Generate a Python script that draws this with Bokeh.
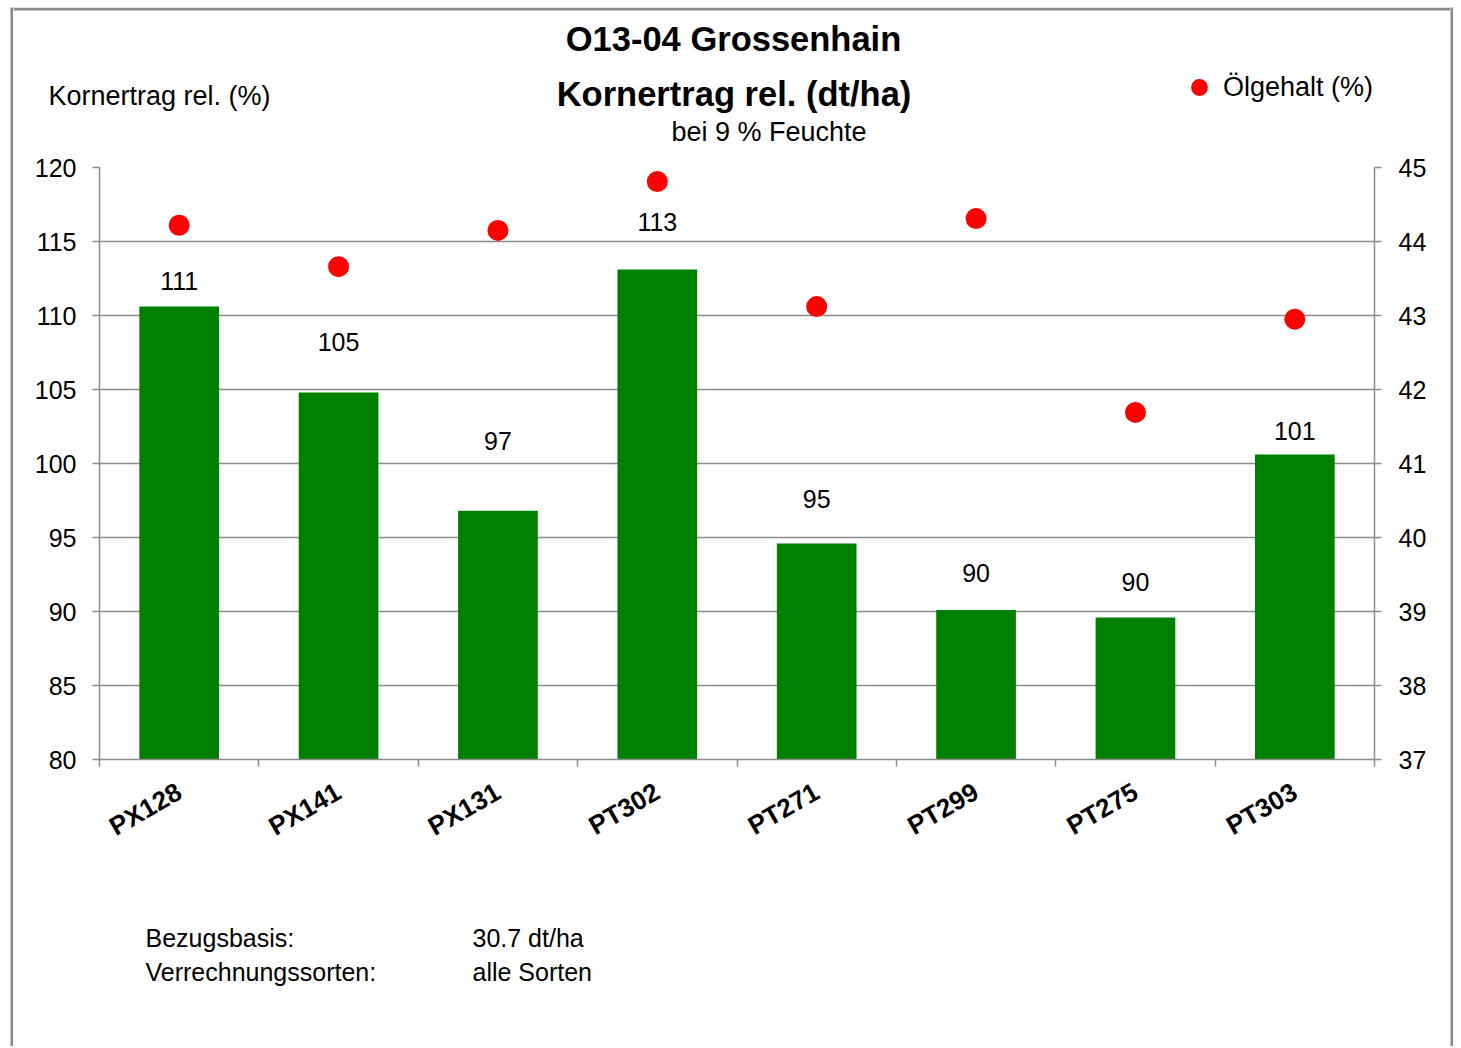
import math
from bokeh.plotting import figure
from bokeh.layouts import column, row
from bokeh.models import (Range1d, LinearAxis, FixedTicker, Spacer, Span,
                          Legend, LegendItem)
from bokeh.core.properties import value
from bokeh.embed import file_html
from bokeh.resources import INLINE

# ---------------- data ----------------
sorten = ["PX128", "PX141", "PX131", "PT302", "PT271", "PT299", "PT275", "PT303"]
kornertrag_rel = [110.6, 104.8, 96.8, 113.1, 94.6, 90.1, 89.6, 100.6]
oelgehalt = [44.22, 43.66, 44.15, 44.81, 43.12, 44.31, 41.69, 42.95]
label_hoehe = [112.3, 108.2, 101.5, 116.3, 97.6, 92.6, 92.0, 102.2]
y_ticks = [80, 85, 90, 95, 100, 105, 110, 115, 120]
y2_ticks = [37, 38, 39, 40, 41, 42, 43, 44, 45]
titel = "O13-04 Grossenhain"
untertitel = "Kornertrag rel. (dt/ha)"
zusatz = "bei 9 % Feuchte"
y_titel = "Kornertrag rel. (%)"
legende = "Ölgehalt (%)"
fuss_links = ["Bezugsbasis:", "Verrechnungssorten:"]
fuss_rechts = ["30.7 dt/ha", "alle Sorten"]
werte_text = [f"{v:.0f}" for v in kornertrag_rel]

n = len(sorten)
xpos = [i + 0.5 for i in range(n)]  # slot centres; slot boundaries at integers

# ---------------- layout (page pixels) ----------------
FONT = "Liberation Sans"
GRAY = "#8c8c8c"
BORDER = "#8a8a8a"
X0, Y0, BW = 10, 7, 3           # outer border position / width
WI = 1437                        # inner width
HH, HM, HF = 145, 707, 187       # header / main / footer heights
IX = X0 + BW                     # inner left (page x)
HY = Y0                          # header top (page y)
MY = HY + HH                     # main top
FY = MY + HM                     # footer top
HT = HH + HM + HF


def blank(w, h, fill="white"):
    f = figure(width=w, height=h, x_range=Range1d(0, w), y_range=Range1d(h, 0),
               min_border=0, toolbar_location=None, output_backend="svg",
               x_axis_location=None, y_axis_location=None)
    f.grid.visible = False
    f.outline_line_color = None
    f.background_fill_color = fill
    f.border_fill_color = fill
    return f


def put(f, text, x, y, size="25px", bold=False, align="left"):
    f.text(x=[x], y=[y], text=[text], text_font=value(FONT), text_font_size=size,
           text_font_style="bold" if bold else "normal", text_align=align,
           text_baseline="middle", text_color="black")


# ---- header ----
hd = blank(WI, HH)
hd.add_layout(Span(location=BW / 2, dimension="width", line_color=BORDER, line_width=BW))
put(hd, titel, 733 - IX, 38 - HY, "34.5px", True, "center")
put(hd, untertitel, 733.5 - IX, 93 - HY, "34.5px", True, "center")
put(hd, zusatz, 768.5 - IX, 131 - HY, "27px", False, "center")
put(hd, y_titel, 48 - IX, 95 - HY, "27px")
# legend swatch renderer (kept outside the visible header area)
leg_r = hd.scatter(x=[-50], y=[-50], size=17, fill_color="#ff0000", line_color=None)
leg = Legend(items=[LegendItem(label=legende, renderers=[leg_r])],
             location=(1199 - 21 - IX, HH - (87 + 21 - HY)),
             glyph_width=42, glyph_height=42, label_standoff=3,
             padding=0, margin=0, spacing=0, border_line_color=None,
             background_fill_alpha=0, label_text_font=FONT,
             label_text_font_size="27px", label_text_color="black")
hd.add_layout(leg, "center")

# ---- main chart ----
FL, FT, FR, FB = 99, 167, 1374, 759   # frame edges (page)
p = figure(width=WI, height=HM, x_range=Range1d(0, n), y_range=Range1d(80, 120),
           output_backend="svg", toolbar_location=None,
           min_border_left=FL - IX, min_border_right=IX + WI - FR,
           min_border_top=FT - MY, min_border_bottom=MY + HM - FB)
p.outline_line_color = None
p.background_fill_color = "white"
p.border_fill_color = "white"
p.extra_y_ranges = {"oil": Range1d(37, 45)}


def style_axis(ax):
    ax.axis_line_color = GRAY
    ax.axis_line_width = 1.5
    ax.major_tick_line_color = GRAY
    ax.major_tick_line_width = 1.5
    ax.major_tick_in = 0
    ax.major_tick_out = 7
    ax.minor_tick_line_color = None
    ax.major_label_text_font = FONT
    ax.major_label_text_color = "black"


ya = p.yaxis[0]
ya.ticker = FixedTicker(ticks=y_ticks)
style_axis(ya)
ya.major_label_text_font_size = "25px"
ya.major_label_standoff = 16

ra = LinearAxis(y_range_name="oil", ticker=FixedTicker(ticks=y2_ticks))
style_axis(ra)
ra.major_label_text_font_size = "25px"
ra.major_label_standoff = 17
p.add_layout(ra, "right")

p.ygrid.grid_line_color = GRAY
p.ygrid.grid_line_width = 1.5
p.ygrid.ticker = FixedTicker(ticks=y_ticks)
p.xgrid.grid_line_color = None

xa = p.xaxis[0]
xa.ticker = FixedTicker(ticks=xpos, minor_ticks=list(range(n + 1)))
xa.major_label_overrides = {x: s for x, s in zip(xpos, sorten)}
style_axis(xa)
xa.major_tick_line_color = None
xa.minor_tick_line_color = GRAY
xa.minor_tick_line_width = 1.5
xa.minor_tick_in = 0
xa.minor_tick_out = 7
xa.major_label_orientation = math.pi / 6
xa.major_label_text_font_style = "bold"
xa.major_label_text_font_size = "26px"
xa.major_label_standoff = 23

p.vbar(x=xpos, top=kornertrag_rel, bottom=80, width=0.5,
       fill_color="#008000", line_color=None)
p.text(x=xpos, y=label_hoehe, text=werte_text, text_align="center",
       text_baseline="middle", text_font=value(FONT), text_font_size="25px",
       text_color="black")
p.scatter(x=xpos, y=oelgehalt, y_range_name="oil", size=21,
          fill_color="#ff0000", line_color=None)

# ---- footer ----
ft = blank(WI, HF)
for i, (a, b) in enumerate(zip(fuss_links, fuss_rechts)):
    put(ft, a, 145 - IX, 937 + 34 * i - FY)
    put(ft, b, 472 - IX, 937 + 34 * i - FY)

# ---- side border strips ----
left_strip = blank(BW, HT, BORDER)
right_strip = blank(BW, HT, BORDER)

# header and footer wrapped in rows so that their frames are not aligned
# with the frame of the main chart
inner = column(row(hd, spacing=0), p, row(ft, spacing=0), spacing=0)
body = row(Spacer(width=X0, height=1), left_strip, inner, right_strip, spacing=0)
root = column(Spacer(width=1, height=Y0), body, spacing=0)

open("out.html", "w").write(file_html(root, INLINE))
